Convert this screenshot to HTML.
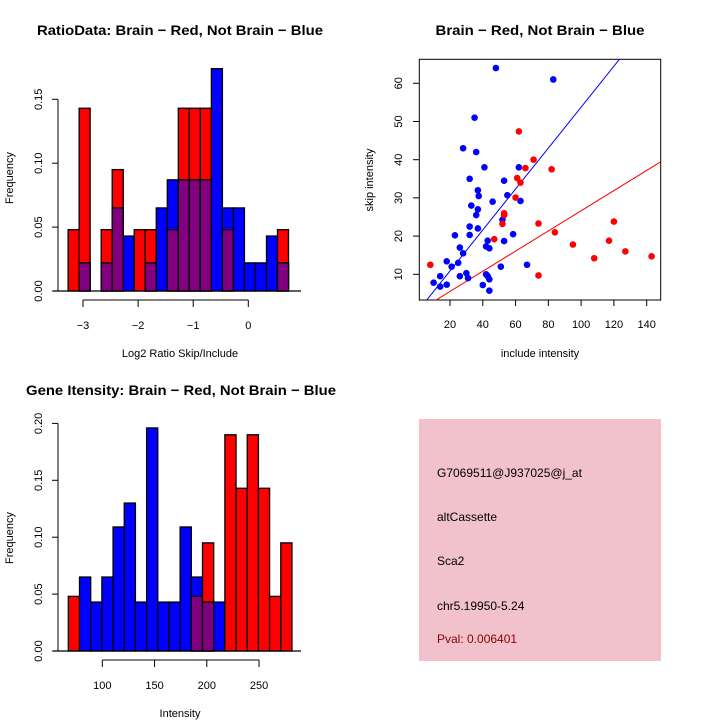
<!DOCTYPE html>
<html><head><meta charset="utf-8"><style>
html,body{margin:0;padding:0;background:#fff;}
svg{display:block;font-family:"Liberation Sans",sans-serif;}
</style></head><body>
<svg id="s" width="720" height="720" xmlns="http://www.w3.org/2000/svg"></svg>
<script>
// ---- Chart 1: ratio histogram ----
const ratioStart = -3.27, ratioStep = 0.2;
const ratioRed  = [0.048,0.143,0,0.048,0.095,0,0.048,0.048,0,0.048,0.143,0.143,0.143,0,0.048,0,0,0,0,0.048];
const ratioBlue = [0,0.022,0,0.022,0.065,0.043,0,0.022,0.065,0.087,0.087,0.087,0.087,0.174,0.065,0.065,0.022,0.022,0.043,0.022];
const ratioXTicks = [-3,-2,-1,0];
const ratioYTicks = [0,0.05,0.10,0.15];
const ratioYLabels = ["0.00","0.05","0.10","0.15"];
// ---- Chart 2: scatter ----
const blueX = [48,83,35,28,36,41,62,32,53,37,37.5,55,46,63,33,37,36,52,32,37,23,32,58.5,43,53,42,26,44,28,25,18,21,51,67,30,42,14,26,43,31,44,10,14,18,40,44];
const blueY = [64,61,51,43,42,38,38,35,34.5,32,30.5,30.7,29,29.2,28,27,25.5,24.3,22.5,22,20.2,20.3,20.5,18.8,18.7,17.3,17,16.8,15.5,13,13.4,12,12,12.5,10.3,10,9.5,9.5,9.5,9,8.7,7.8,6.8,7.3,7.2,5.7];
const redX = [8,62,71,66,82,61,63,60,53,53,52,74,47,84,120,95,117,127,108,143,74];
const redY = [12.5,47.4,40,37.8,37.5,35.2,34,30.1,26,25.5,23.2,23.3,19.2,21,23.8,17.8,18.8,16,14.2,14.7,9.7];
const blueFit = [0.16,0.536]; // intercept, slope
const redFit = [0.23,0.264];
const scatXTicks = [20,40,60,80,100,120,140];
const scatYTicks = [10,20,30,40,50,60];
// ---- Chart 3: intensity histogram ----
const intStart = 67.5, intStep = 10.7;
const intRed  = [0.048,0,0,0,0,0,0,0,0,0,0,0.048,0.095,0,0.190,0.143,0.190,0.143,0.048,0.095];
const intBlue = [0,0.065,0.043,0.065,0.109,0.130,0.043,0.196,0.043,0.043,0.109,0.065,0.043,0.043,0,0,0,0,0,0];
const intXTicks = [100,150,200,250];
const intYTicks = [0,0.05,0.10,0.15,0.20];
const intYLabels = ["0.00","0.05","0.10","0.15","0.20"];
const infoLines = ["G7069511@J937025@j_at","altCassette","Sca2","chr5.19950-5.24"];
const pvalText = "Pval: 0.006401";

const S = document.getElementById('s');
const NS = "http://www.w3.org/2000/svg";
function mk(tag, attrs, parent){const e=document.createElementNS(NS,tag);for(const k in attrs)e.setAttribute(k,attrs[k]);(parent||S).appendChild(e);return e;}
function txt(x,y,t,size,extra){const e=mk('text',Object.assign({x:x,y:y,'font-size':size,'text-anchor':'middle'},extra||{}));e.textContent=t;return e;}

function hist(g, start, step, red, blue, xs, ys, xticks, yticks, ylabels, xScaleStart, xPerUnit, base, perY, axisY){
  const X = v => xs + (v - xScaleStart) * xPerUnit;
  const Y = v => base - v * perY;
  for(let i=0;i<red.length;i++){
    const x0 = X(start + i*step), x1 = X(start+(i+1)*step);
    if(red[i]>0){const r=mk('rect',{x:x0,y:Y(red[i]),width:x1-x0,height:base-Y(red[i]),fill:'#ff0000',stroke:'#000','stroke-width':1.3},g);
      
      }
    if(blue[i]>0){const b=mk('rect',{x:x0,y:Y(blue[i]),width:x1-x0,height:base-Y(blue[i]),fill:'#0000ff',stroke:'#000','stroke-width':1.3},g);
      
      }
    const m=Math.min(red[i],blue[i]);
    if(m>0){const p=mk('rect',{x:x0,y:Y(m),width:x1-x0,height:base-Y(m),fill:'#800080',stroke:'#000','stroke-width':1.3},g);
      
      }
  }
  mk('line',{x1:53,x2:301,y1:base,y2:base,stroke:'#000','stroke-width':1.3},g);
  mk('line',{x1:58,x2:58,y1:Y(yticks[0]),y2:Y(yticks[yticks.length-1]),stroke:'#000'},g);
  yticks.forEach((t,i)=>{mk('line',{x1:52,x2:58,y1:Y(t),y2:Y(t),stroke:'#000'},g);
    const l=txt(42,Y(t),ylabels[i],11,{transform:`rotate(-90 42 ${Y(t)})`},g);g.appendChild(l);});
  mk('line',{x1:X(xticks[0]),x2:X(xticks[xticks.length-1]),y1:axisY,y2:axisY,stroke:'#000'},g);
  xticks.forEach(t=>{mk('line',{x1:X(t),x2:X(t),y1:axisY,y2:axisY+7,stroke:'#000'},g);
    const l=txt(X(t),axisY+29,String(t).replace('-','\u2212'),11);g.appendChild(l);});
}

// Chart 1
const g1 = mk('g',{});


txt(180,35,"RatioData: Brain \u2212 Red, Not Brain \u2212 Blue",14,{'font-weight':'bold',textLength:286,lengthAdjust:'spacingAndGlyphs'});
hist(g1, ratioStart, ratioStep, ratioRed, ratioBlue, 83, 0, ratioXTicks, ratioYTicks, ratioYLabels, -3, 55.1, 291, 1278, 300);
txt(180,357,"Log2 Ratio Skip/Include",11);
txt(13,178,"Frequency",11,{transform:'rotate(-90 13 178)'});

// Chart 2
const g2 = mk('g',{});


txt(540,35,"Brain \u2212 Red, Not Brain \u2212 Blue",14,{'font-weight':'bold',textLength:209,lengthAdjust:'spacingAndGlyphs'});
const SX = x => 450 + (x-20)*1.639;
const SY = y => 274.3 - (y-10)*3.82;
const cp = mk('clipPath',{id:'cp'},g2); mk('rect',{x:419.3,y:59.3,width:241.4,height:240.7},cp);
mk('rect',{x:419.3,y:59.3,width:241.4,height:240.7,fill:'none',stroke:'#000'},g2);
const xmin=(419.3-450)/1.639+20, xmax=(660.7-450)/1.639+20;
[[blueFit,'#0000ff','blue-fit-line'],[redFit,'#ff0000','red-fit-line']].forEach(([f,c,n])=>{
  const l=mk('line',{x1:SX(xmin),y1:SY(f[0]+f[1]*xmin),x2:SX(xmax),y2:SY(f[0]+f[1]*xmax),stroke:c,'stroke-width':1,'clip-path':'url(#cp)'},g2);
  
  
});
blueX.forEach((x,i)=>{const c=mk('circle',{cx:SX(x),cy:SY(blueY[i]),r:3.3,fill:'#0000ff'},g2);
  
  });
redX.forEach((x,i)=>{const c=mk('circle',{cx:SX(x),cy:SY(redY[i]),r:3.3,fill:'#ff0000'},g2);
  
  });
scatXTicks.forEach(t=>{mk('line',{x1:SX(t),x2:SX(t),y1:300,y2:306,stroke:'#000'},g2);txt(SX(t),328,String(t),11);});
scatYTicks.forEach(t=>{mk('line',{x1:413,x2:419.3,y1:SY(t),y2:SY(t),stroke:'#000'},g2);txt(402,SY(t),String(t),11,{transform:`rotate(-90 402 ${SY(t)})`});});
txt(540,357,"include intensity",11);
txt(373,180,"skip intensity",11,{transform:'rotate(-90 373 180)'});

// Chart 3
const g3 = mk('g',{});


txt(181,395,"Gene Itensity: Brain \u2212 Red, Not Brain \u2212 Blue",14,{'font-weight':'bold',textLength:310,lengthAdjust:'spacingAndGlyphs'});
hist(g3, intStart, intStep, intRed, intBlue, 102.3, 0, intXTicks, intYTicks, intYLabels, 100, 1.045, 651, 1138, 660);
txt(180,717,"Intensity",11);
txt(13,538,"Frequency",11,{transform:'rotate(-90 13 538)'});

// Info panel
const g4 = mk('g',{});


mk('rect',{x:419,y:419,width:242,height:242,fill:'#f2c2cc'},g4);
const ys=[477,521,565,610];
infoLines.forEach((t,i)=>{const e=txt(437,ys[i],t,12,{'text-anchor':'start'});
  });
const pv=txt(437,643,pvalText,12,{'text-anchor':'start',fill:'#8b0000'});


</script>
</body></html>
